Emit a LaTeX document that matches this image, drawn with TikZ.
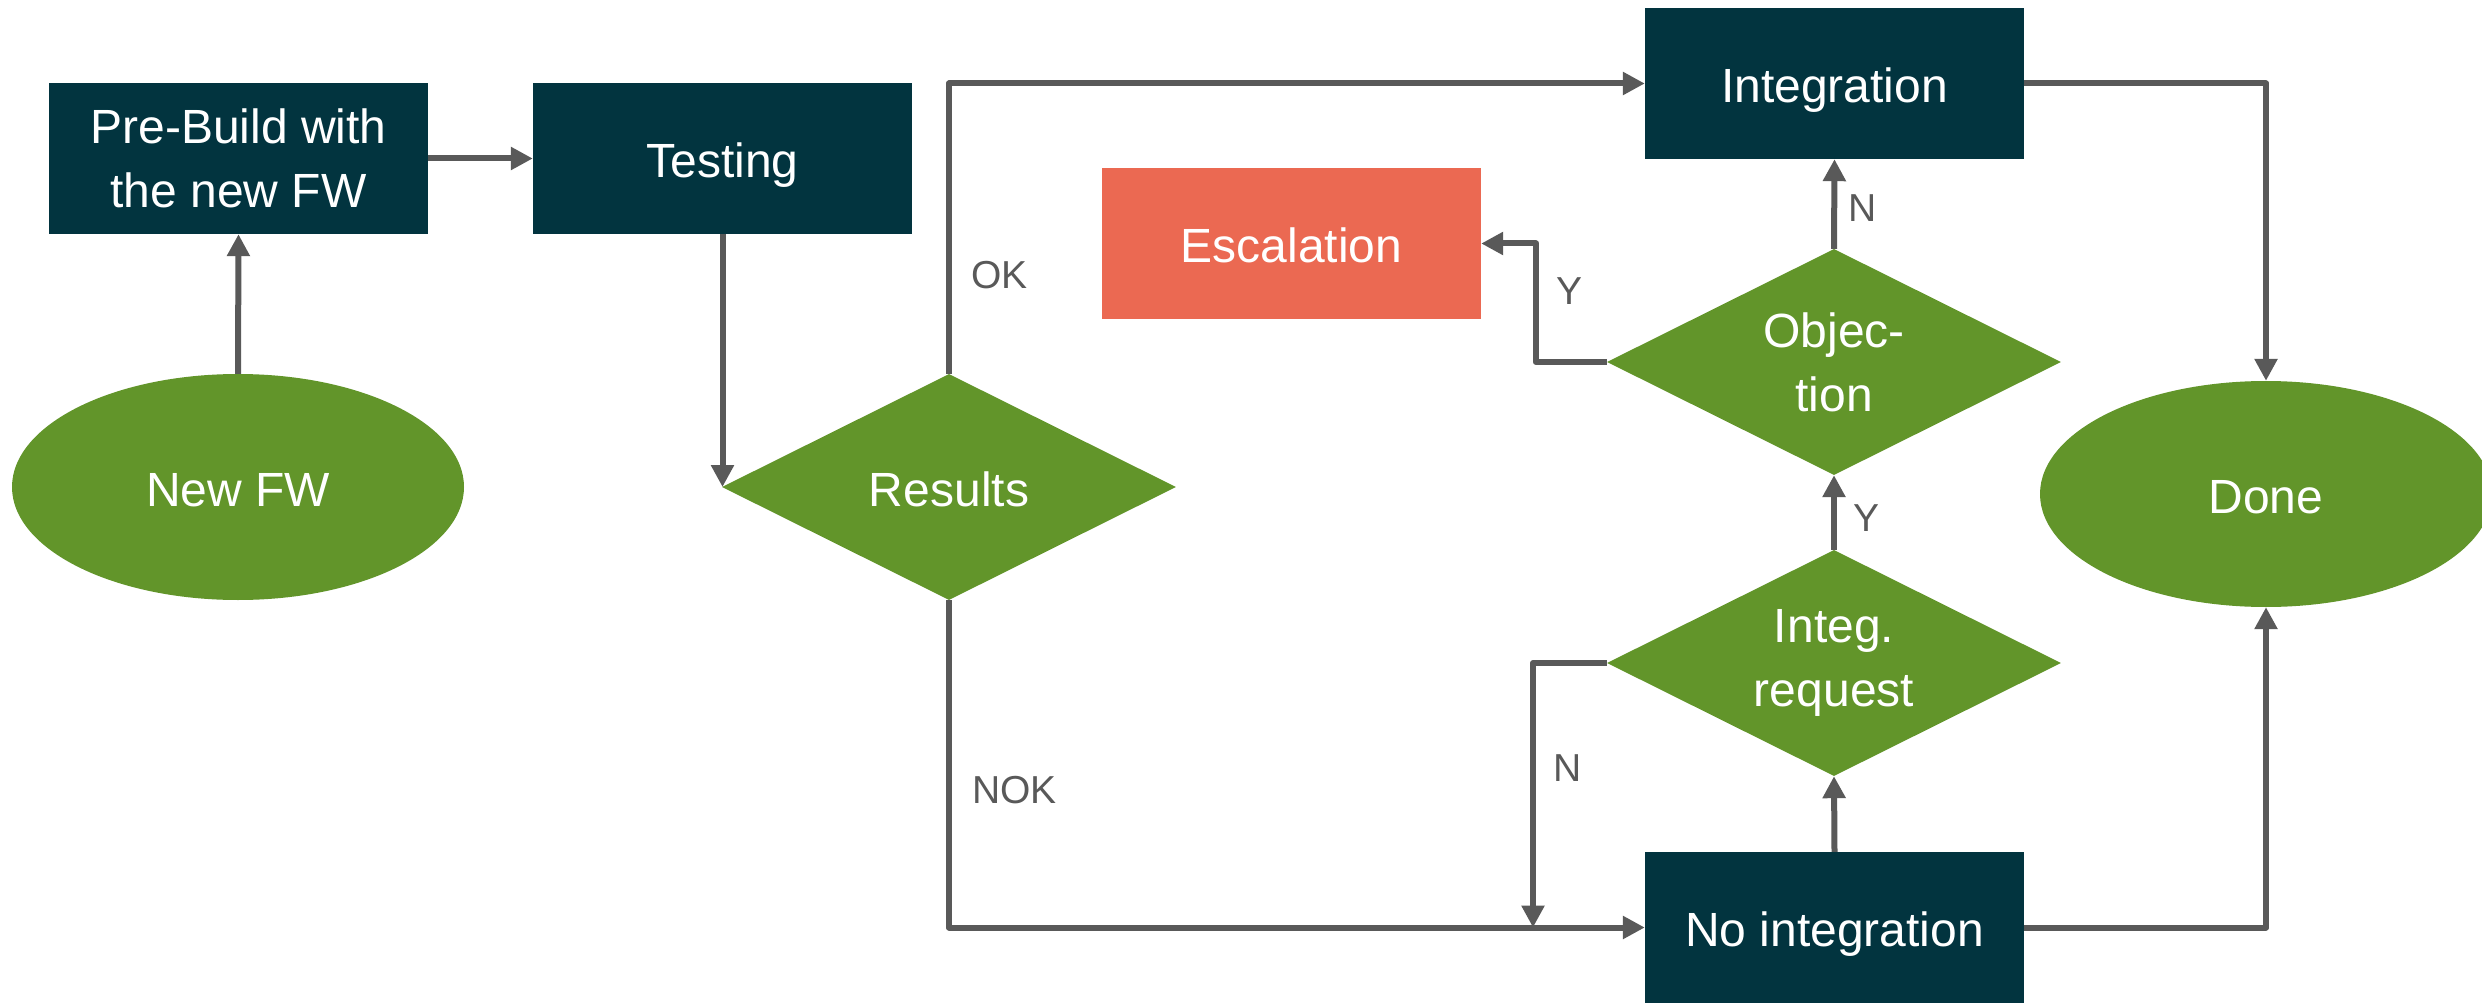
\documentclass[tikz,border=0pt]{standalone}
\usepackage{fontspec}
\setmainfont{Liberation Sans}
\usetikzlibrary{shapes.geometric,arrows.meta,positioning,calc}
\definecolor{darkteal}{HTML}{02343F}
\definecolor{leafgreen}{HTML}{62952A}
\definecolor{escorange}{HTML}{EB6952}
\definecolor{linegray}{HTML}{595959}
\tikzset{
  boxnode/.style={rectangle, fill=darkteal, text=white, minimum width=379pt, minimum height=151pt, inner sep=0pt, align=center, font=\fontsize{48}{64}\selectfont},
  oneline/.style={text height=48pt, text depth=9.6pt},
  escnode/.style={boxnode, fill=escorange},
  ovalnode/.style={ellipse, fill=leafgreen, text=white, minimum width=452pt, minimum height=226pt, inner sep=0pt, align=center, font=\fontsize{48}{64}\selectfont},
  decnode/.style={diamond, aspect=2, fill=leafgreen, text=white, minimum width=454pt, minimum height=226pt, inner sep=0pt, align=center, font=\fontsize{48}{64}\selectfont},
  conn/.style={draw=linegray, line width=6pt, line join=round, -{Triangle[length=22pt,width=22pt]}},
  lbl/.style={text=linegray, inner sep=0pt, anchor=west, font=\fontsize{39}{47}\selectfont}
}
\begin{document}
\begin{tikzpicture}[x=1pt,y=-1pt]
\clip (0,0) rectangle (2482,1003);
\fill[white] (0,0) rectangle (2482,1003);
% nodes
\node[boxnode] (pb) at (238.5,158.5) {Pre-Build with\\the new FW};
\node[boxnode, oneline] (test) at (722.5,158.5) {Testing};
\node[ovalnode, oneline] (nf) at (238,487) {New FW};
\node[decnode, oneline] (res) at (949,487) {Results};
\node[boxnode, oneline] (integ) at (1834.5,83.5) {Integration};
\node[escnode, oneline] (esc) at (1291.5,243.5) {Escalation};
\node[decnode] (obj) at (1834,362) {Objec-\\tion};
\node[decnode] (req) at (1834,663) {Integ.\\request};
\node[boxnode, oneline] (noint) at (1834.5,927.5) {No integration};
\node[ovalnode, oneline] (done) at (2266,494) {Done};
\coordinate (nj) at (1533,927.5);
% connectors
\draw[conn] (nf.north) -- (pb.south);
\draw[conn] (pb.east) -- (test.west);
\draw[conn] (test.south) -- (test.south |- res.west);
\draw[conn] (res.north) |- (integ.west);
\draw[conn] (res.south) |- (noint.west);
\draw[conn] (integ.east) -| (done.north);
\draw[conn] (noint.east) -| (done.south);
\draw[conn] (obj.north) -- (integ.south);
\draw[conn] (obj.west) -- ++(-71,0) |- (esc.east);
\draw[conn] (req.north) -- (obj.south);
\draw[conn] (noint.north) -- (req.south);
\draw[conn] (req.west) -| (nj);
% labels
\node[lbl] (lok) at (971,275) {OK};
\node[lbl] (lnok) at (972,790) {NOK};
\node[lbl] (ln1) at (1848,208) {N};
\node[lbl] (ly1) at (1556,291) {Y};
\node[lbl] (ly2) at (1853,518) {Y};
\node[lbl] (ln2) at (1553,768) {N};
\end{tikzpicture}
\end{document}
